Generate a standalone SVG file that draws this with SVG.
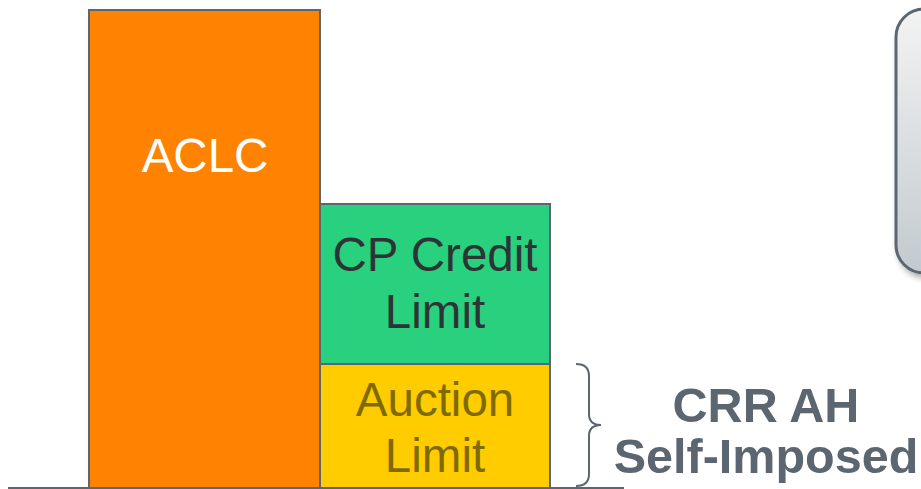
<svg xmlns="http://www.w3.org/2000/svg" width="921" height="489" viewBox="0 0 921 489">
<style>
.bar{stroke:#5b6670;stroke-width:2}
.t{font-family:"Liberation Sans",Arial,sans-serif;font-size:47.5px;text-anchor:middle}
.b{font-family:"Liberation Sans",Arial,sans-serif;font-size:48.5px;font-weight:bold;text-anchor:middle;fill:#5b6670}
</style>
<defs>
<linearGradient id="g" x1="0" y1="0" x2="0" y2="1">
<stop offset="0" stop-color="#f3f3f3"/>
<stop offset="1" stop-color="#c2cacf"/>
</linearGradient>
<filter id="sh" x="-20%" y="-10%" width="140%" height="130%">
<feGaussianBlur in="SourceAlpha" stdDeviation="3"/>
<feOffset dx="3" dy="4"/>
<feComponentTransfer><feFuncA type="linear" slope="0.35"/></feComponentTransfer>
<feMerge><feMergeNode/><feMergeNode in="SourceGraphic"/></feMerge>
</filter>
</defs>
<g id="callout-box">
<rect x="896" y="9" width="80" height="264" rx="28" fill="url(#g)" stroke="#5b6670" stroke-width="3" filter="url(#sh)"/>
</g>
<g id="aclc">
<rect class="bar" x="89" y="10" width="231" height="479" fill="#ff8200"/>
<text class="t" x="205" y="172" fill="#ffffff">ACLC</text>
</g>
<g id="cp-credit-limit">
<rect class="bar" x="320" y="204" width="230" height="160" fill="#29d07e"/>
<text class="t" x="435" y="271" fill="#2d3436">CP Credit</text>
<text class="t" x="435" y="328" fill="#2d3436">Limit</text>
</g>
<g id="auction-limit">
<rect class="bar" x="320" y="364" width="230" height="125" fill="#ffcc00"/>
<text class="t" x="435" y="416" fill="#7f6a00">Auction</text>
<text class="t" x="435" y="472" fill="#7f6a00">Limit</text>
</g>
<g id="connectors">
<line x1="8" y1="488" x2="624" y2="488" stroke="#5b6670" stroke-width="2"/>
<path d="M576,364 Q589,364 589,376 L589,414 Q589,425 601,425 Q589,425 589,436 L589,474 Q589,486 576,486" fill="none" stroke="#5b6670" stroke-width="2"/>
</g>
<g id="crr-label">
<text class="b" x="766" y="422">CRR AH</text>
<text class="b" x="766" y="473">Self-Imposed</text>
</g>
</svg>
